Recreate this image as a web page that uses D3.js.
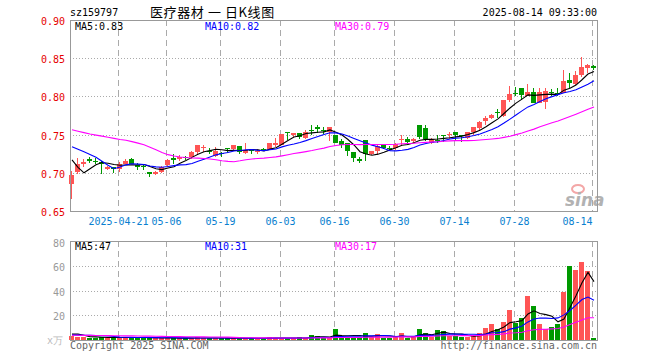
<!DOCTYPE html>
<html>
<head>
<meta charset="utf-8">
<script src="https://cdn.jsdelivr.net/npm/d3@7"></script>
<style>
body { margin: 0; background: #fff; }
svg text { font-family: "DejaVu Sans Mono", "Liberation Mono", monospace; font-size: 10px; }
</style>
</head>
<body>
<svg id="chart" width="660" height="360"></svg>
<script>
// daily candles, 2025-04-09 .. 2025-08-14 (88 trading days)
var openP  = [0.685,0.701,0.711,0.718,0.716,0.714,0.705,0.707,0.705,0.712,0.718,0.710,0.709,0.701,0.698,0.701,0.710,0.719,0.718,0.721,
              0.721,0.727,0.732,0.729,0.722,0.726,0.733,0.731,0.735,0.726,0.731,0.728,0.731,0.731,0.736,0.737,0.754,0.749,0.752,0.745,
              0.756,0.760,0.756,0.754,0.749,0.742,0.739,0.727,0.718,0.743,0.725,0.729,0.736,0.733,0.732,0.743,0.744,0.742,0.763,0.759,
              0.739,0.743,0.749,0.749,0.753,0.750,0.745,0.753,0.759,0.768,0.772,0.780,0.775,0.795,0.805,0.811,0.801,0.806,0.792,0.793,
              0.806,0.805,0.805,0.822,0.816,0.828,0.837,0.840];
var highP  = [0.702,0.719,0.718,0.721,0.719,0.715,0.709,0.708,0.714,0.718,0.720,0.713,0.712,0.701,0.703,0.709,0.718,0.725,0.723,0.722,
              0.728,0.737,0.737,0.732,0.734,0.727,0.733,0.736,0.735,0.739,0.731,0.731,0.733,0.739,0.746,0.751,0.754,0.752,0.752,0.756,
              0.763,0.763,0.760,0.760,0.749,0.744,0.739,0.727,0.721,0.743,0.729,0.736,0.736,0.735,0.739,0.749,0.747,0.745,0.763,0.762,
              0.746,0.750,0.749,0.753,0.753,0.750,0.753,0.760,0.768,0.774,0.777,0.784,0.795,0.813,0.812,0.811,0.816,0.811,0.811,0.811,
              0.810,0.811,0.835,0.831,0.833,0.852,0.842,0.841];
var lowP   = [0.666,0.699,0.708,0.713,0.711,0.698,0.704,0.700,0.701,0.711,0.711,0.704,0.704,0.694,0.697,0.700,0.708,0.712,0.716,0.717,
              0.718,0.725,0.727,0.724,0.721,0.721,0.726,0.730,0.725,0.725,0.724,0.725,0.728,0.730,0.734,0.736,0.743,0.747,0.744,0.744,
              0.749,0.752,0.751,0.741,0.739,0.732,0.722,0.714,0.713,0.715,0.723,0.723,0.731,0.729,0.730,0.736,0.737,0.739,0.744,0.741,
              0.738,0.739,0.740,0.744,0.741,0.740,0.744,0.750,0.756,0.762,0.771,0.772,0.773,0.793,0.800,0.795,0.800,0.791,0.791,0.784,
              0.800,0.800,0.804,0.811,0.815,0.825,0.831,0.834];
var closeP = [0.697,0.712,0.714,0.716,0.714,0.711,0.708,0.705,0.711,0.716,0.712,0.707,0.708,0.698,0.701,0.707,0.717,0.717,0.721,0.719,
              0.727,0.737,0.734,0.728,0.728,0.724,0.731,0.736,0.727,0.730,0.728,0.729,0.729,0.739,0.739,0.751,0.753,0.752,0.747,0.754,
              0.755,0.757,0.755,0.760,0.739,0.736,0.728,0.719,0.716,0.724,0.728,0.735,0.732,0.731,0.738,0.744,0.740,0.744,0.747,0.744,
              0.744,0.742,0.748,0.751,0.750,0.749,0.753,0.760,0.767,0.772,0.776,0.778,0.795,0.803,0.804,0.802,0.806,0.792,0.806,0.807,
              0.804,0.804,0.820,0.818,0.828,0.839,0.841,0.837];
// volume, in 万
var volume = [3.5,2.5,2.5,2,2,2.2,2,1.8,2.2,2,2.4,1.5,2,1.8,1.5,1.6,1.6,1.5,1.5,1.5,
              1.5,2.2,1.6,1.5,1.5,1.5,1.5,1.5,1.5,1.3,1.3,1.3,1.3,2.4,1.5,1.5,1.5,1.5,2.4,1.5,
              4,3.3,1.5,2,8.9,2.4,2.4,2.4,2.4,5.6,2.6,4.8,1.9,1.3,2.4,5.6,1.9,2.4,8.9,5.6,
              2.4,8,7,3.5,3.5,2.4,2.4,3.5,5.9,10,13,8.9,14.8,24,13.5,17.5,35.8,27.7,13.2,8.9,
              10.8,13.2,39.3,60,56.6,63,55.8,1.7];
// the 29 sessions before the first candle (only feed the moving averages)
var preClose = [0.768,0.770,0.769,0.758,0.752,0.749,0.751,0.754,0.750,0.762,0.766,0.770,0.795,0.806,0.809,
                0.804,0.772,0.760,0.740,0.742,0.745,0.748,0.750,0.752,0.763,0.760,0.750,0.690,0.687];
var preVolume = [3.8,3.9,3.7,3.8,4,3.6,3.8,3.9,3.7,3.8,3.8,4,3.6,3.8,3.9,3.7,3.8,3.8,3.7,3.9,
                 3.2,3.2,3.2,3.2,3.2,2.5,7.5,7.5,3];

var dateLabels = ["2025-04-21","05-06","05-19","06-03","06-16","06-30","07-14","07-28","08-14"];
var dateIndex  = [8,16,25,35,44,54,64,74,87];
var priceTicks = [0.90,0.85,0.80,0.75,0.70,0.65];
var volTicks   = [80,60,40,20];
var maNames    = ["MA5","MA10","MA30"];
var maDays     = [5,10,30];
var priceMaText = ["0.83","0.82","0.79"];
var volMaText   = ["47","31","17"];

var maColors = ["#000000","#0000ff","#ff00ff"];
var upColor = "#ff5555", downColor = "#009900";

var svg = d3.select("#chart");
var left = 70, right = 597;
var top1 = 20, bot1 = 211, top2 = 241, bot2 = 340;

var n = closeP.length;
var x = d3.scaleBand().domain(d3.range(n)).range([left - 1, right]).padding(0);
var xc = function(i) { return x(i) + x.bandwidth() / 2; };
var xGrid = d3.scaleLinear().domain([0, n - 1]).range([x(0) + 1, x(n - 1) + 1]);

var y = d3.scaleLinear().domain([0.65, 0.90]).range([bot1, top1]);
var yv = d3.scaleLinear().domain([0, 80]).range([bot2, top2 + 0.5]);

function movingAvg(pre, vals, days) {
  var all = pre.concat(vals), out = [];
  for (var i = 0; i < vals.length; i++) {
    var end = pre.length + i;
    out.push(d3.mean(all.slice(end - days + 1, end + 1)));
  }
  return out;
}

// ---- grid
function panelGrid(yTop, yBot, ys, vals) {
  var g = svg.append("g").attr("shape-rendering", "crispEdges");
  g.selectAll("line.h").data(vals).enter().append("line")
    .attr("x1", left).attr("x2", right)
    .attr("y1", function(d) { return Math.round(ys(d)) + 0.5; })
    .attr("y2", function(d) { return Math.round(ys(d)) + 0.5; })
    .attr("stroke", "#aaa").attr("stroke-dasharray", "1,2");
  g.selectAll("line.v").data(dateIndex).enter().append("line")
    .attr("x1", function(d) { return Math.round(xGrid(d)) + 0.5; })
    .attr("x2", function(d) { return Math.round(xGrid(d)) + 0.5; })
    .attr("y1", yTop).attr("y2", yBot)
    .attr("stroke", "#aaa").attr("stroke-dasharray", "6,4");
}
panelGrid(top1, bot1, y, [0.85, 0.80, 0.75, 0.70]);
panelGrid(top2, bot2, yv, [60, 40, 20]);

// ---- candles
var candles = svg.append("g").attr("shape-rendering", "crispEdges");
var cg = candles.selectAll("g").data(d3.range(n)).enter().append("g")
  .attr("fill", function(i) { return closeP[i] >= openP[i] ? upColor : downColor; })
  .attr("stroke", function(i) { return closeP[i] >= openP[i] ? upColor : downColor; });
cg.append("line")
  .attr("x1", function(i) { return Math.round(xc(i)) - 0.5; })
  .attr("x2", function(i) { return Math.round(xc(i)) - 0.5; })
  .attr("y1", function(i) { return y(highP[i]); })
  .attr("y2", function(i) { return y(lowP[i]); });
cg.append("rect")
  .attr("stroke", "none")
  .attr("x", function(i) { return Math.round(xc(i)) - 3; })
  .attr("width", 5)
  .attr("y", function(i) { return y(Math.max(openP[i], closeP[i])); })
  .attr("height", function(i) { return Math.max(1, Math.abs(y(openP[i]) - y(closeP[i]))); });

// ---- volume bars
svg.append("g").attr("shape-rendering", "crispEdges")
  .selectAll("rect").data(d3.range(n)).enter().append("rect")
  .attr("x", function(i) { return Math.round(xc(i)) - 3; })
  .attr("width", 5)
  .attr("y", function(i) { return yv(volume[i]); })
  .attr("height", function(i) { return bot2 - yv(volume[i]); })
  .attr("fill", function(i) { return closeP[i] >= openP[i] ? upColor : downColor; });

// ---- moving averages
var line = d3.line().x(function(d, i) { return xc(i); });
maDays.forEach(function(days, k) {
  svg.append("path")
    .datum(movingAvg(preClose, closeP, days))
    .attr("d", line.y(function(d) { return y(d); }))
    .attr("fill", "none").attr("stroke", maColors[k]).attr("stroke-width", 1.1);
  svg.append("path")
    .datum(movingAvg(preVolume, volume, days))
    .attr("d", line.y(function(d) { return yv(d); }))
    .attr("fill", "none").attr("stroke", maColors[k]).attr("stroke-width", 1.1);
});

// ---- frames
[[top1, bot1], [top2, bot2]].forEach(function(p) {
  svg.append("rect").attr("x", left + 0.5).attr("y", p[0] + 0.5)
    .attr("width", right - left).attr("height", p[1] - p[0])
    .attr("fill", "none").attr("stroke", "#999").attr("shape-rendering", "crispEdges");
});

// ---- axes
var ya = svg.append("g").attr("transform", "translate(" + left + ",0)")
  .call(d3.axisLeft(y).tickValues(priceTicks).tickFormat(d3.format(".2f")).tickSize(0).tickPadding(5));
ya.select(".domain").remove();
ya.selectAll("text").attr("fill", "#e60000").style("font-size", "10px").attr("dy", "0.45em");

var va = svg.append("g").attr("transform", "translate(" + left + ",0)")
  .call(d3.axisLeft(yv).tickValues(volTicks).tickSize(0).tickPadding(5));
va.select(".domain").remove();
va.selectAll("text").attr("fill", "#999").style("font-size", "10px").attr("dy", "0.45em");

var xa = svg.append("g").attr("transform", "translate(0," + bot1 + ")")
  .call(d3.axisBottom(xGrid).tickValues(dateIndex)
    .tickFormat(function(d, k) { return dateLabels[k]; }).tickSize(0));
xa.select(".domain").remove();
xa.selectAll("text").attr("fill", "#0a7fd0").style("font-size", "10px")
  .attr("y", 14).attr("dy", 0)
  .attr("text-anchor", function(d, k) { return k === dateIndex.length - 1 ? "end" : "middle"; });

// ---- texts
svg.append("text").attr("x", 70).attr("y", 16).text("sz159797");
svg.append("text").attr("x", 150).attr("y", 17)
  .style("font-family", "'Noto Sans CJK SC', sans-serif").style("font-size", "13px")
  .style("letter-spacing", "0.6px")
  .text("医疗器材 一 日K线图");
svg.append("text").attr("x", right).attr("y", 16).attr("text-anchor", "end").text("2025-08-14 09:33:00");

var labelX = [75, 205, 335];
maNames.forEach(function(name, k) {
  svg.append("text").attr("x", labelX[k]).attr("y", 30).attr("fill", maColors[k])
    .text(name + ":" + priceMaText[k]);
  svg.append("text").attr("x", labelX[k]).attr("y", 250).attr("fill", maColors[k])
    .text(name + ":" + volMaText[k]);
});

svg.append("text").attr("x", 47).attr("y", 344).attr("fill", "#bbb").text("x万");
svg.append("text").attr("x", 70).attr("y", 349).attr("fill", "#666").text("Copyright 2025 SINA.COM");
svg.append("text").attr("x", right).attr("y", 349).attr("text-anchor", "end").attr("fill", "#666")
  .text("http://finance.sina.com.cn");

// sina watermark
var wm = svg.append("g").attr("opacity", 0.75);
wm.append("ellipse").attr("cx", 578).attr("cy", 189).attr("rx", 6).attr("ry", 4)
  .attr("fill", "none").attr("stroke", "#f08a8a").attr("stroke-width", 2);
wm.append("text").attr("x", 565).attr("y", 206)
  .style("font-family", "'DejaVu Sans', sans-serif").style("font-size", "17px")
  .style("font-weight", "bold").style("font-style", "italic").attr("fill", "#999").text("sina");
</script>
</body>
</html>
